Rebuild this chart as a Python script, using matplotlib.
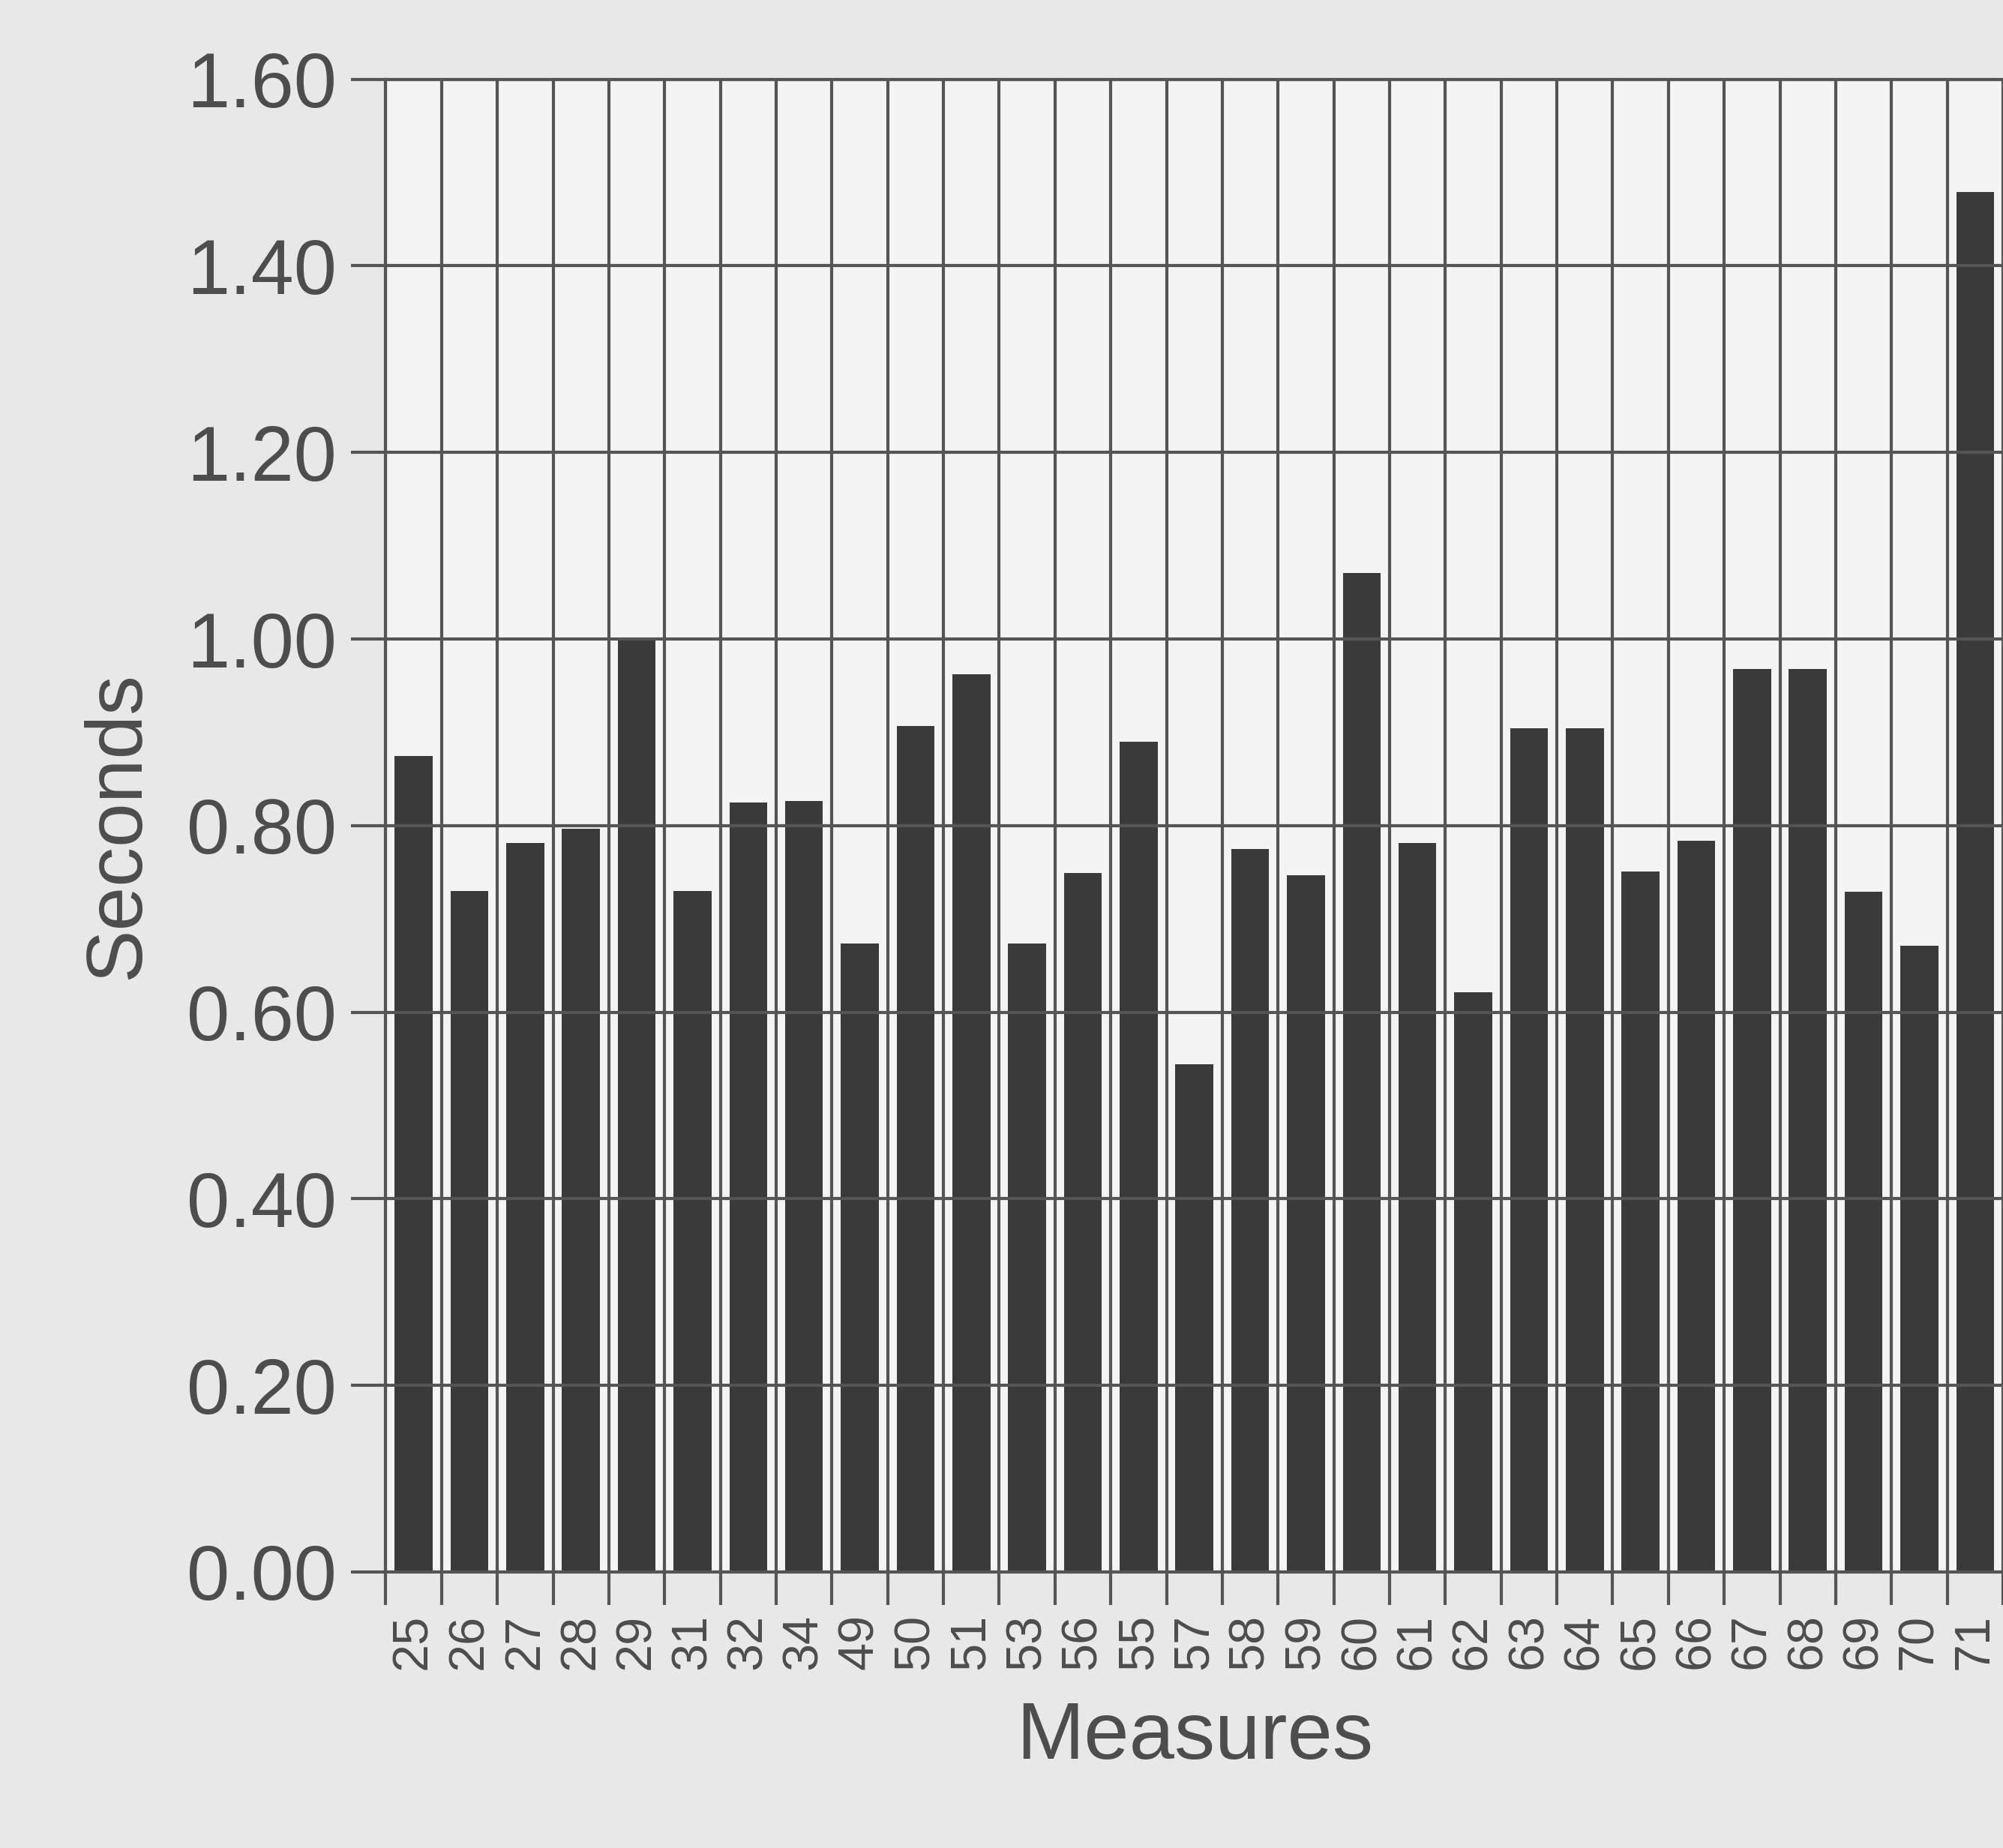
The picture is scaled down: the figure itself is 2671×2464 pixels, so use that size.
import matplotlib.pyplot as plt
import numpy as np

# measure numbers and their durations (seconds)
measures = ['25', '26', '27', '28', '29', '31', '32', '34', '49', '50', '51', '53',
            '56', '55', '57', '58', '59', '60', '61', '62', '63', '64', '65', '66',
            '67', '68', '69', '70', '71']
seconds = [0.875, 0.730, 0.781, 0.797, 1.000, 0.730, 0.825, 0.826, 0.674, 0.907,
           0.962, 0.674, 0.749, 0.890, 0.544, 0.775, 0.747, 1.071, 0.781, 0.621,
           0.904, 0.904, 0.751, 0.784, 0.968, 0.968, 0.729, 0.671, 1.479]
y_ticks = [0.0, 0.2, 0.4, 0.6, 0.8, 1.0, 1.2, 1.4, 1.6]

plt.rcParams['font.family'] = ['Liberation Sans', 'DejaVu Sans']
text_col = '#4d4d4d'
line_col = '#555555'

fig = plt.figure(figsize=(26.71, 24.64), dpi=100)
fig.patch.set_facecolor('#e8e8e8')
ax = fig.add_axes([0.1926, 0.1494, 0.8074, 0.8077])
ax.set_facecolor('#f4f4f4')

x = np.arange(len(measures))
ax.bar(x, seconds, width=0.68, color='#3a3a3a', zorder=2)

ax.set_xlim(-0.5, len(measures) - 0.5)
ax.set_ylim(0, 1.6)

# y axis
ax.set_yticks(y_ticks)
ax.set_yticklabels([f'{v:.2f}' for v in y_ticks])
ax.tick_params(axis='y', direction='out', length=33, width=3, color=line_col,
               labelsize=74, labelcolor=text_col, pad=14)
ax.yaxis.grid(True, color=line_col, linewidth=3, zorder=1)

# x axis: labels at bar centres, tick marks and grid at boundaries
ax.set_xticks(x)
ax.set_xticklabels(measures, rotation=90)
ax.tick_params(axis='x', which='major', length=0, labelsize=48,
               labelcolor=text_col, pad=40)
ax.set_xticks(np.arange(-0.5, len(measures)), minor=True)
ax.tick_params(axis='x', which='minor', direction='out', length=32, width=3,
               color=line_col)
ax.xaxis.grid(True, which='minor', color=line_col, linewidth=3, zorder=3)
ax.xaxis.grid(False, which='major')
ax.set_axisbelow(False)

for side in ['left', 'top', 'bottom']:
    ax.spines[side].set_color(line_col)
    ax.spines[side].set_linewidth(3)
ax.spines['right'].set_visible(False)

ax.set_ylabel('Seconds', fontsize=76, color=text_col, labelpad=30)
ax.set_xlabel('Measures', fontsize=78, color=text_col, labelpad=30)

fig.savefig('out.png', dpi=100, facecolor=fig.get_facecolor())
